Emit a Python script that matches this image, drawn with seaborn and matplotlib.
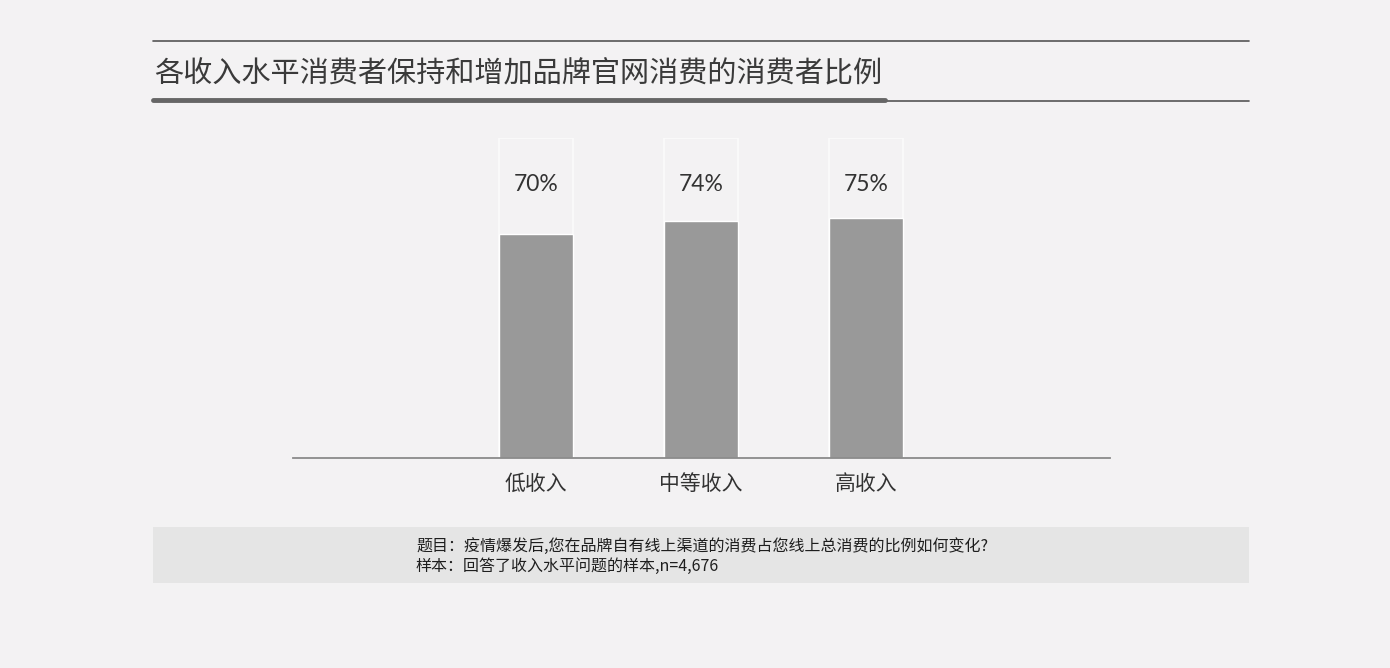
import matplotlib
matplotlib.use("Agg")
import matplotlib.pyplot as plt
import seaborn as sns
import pandas as pd
from matplotlib.lines import Line2D
from matplotlib.patches import Rectangle

# 数据
categories = ["低收入", "中等收入", "高收入"]
values = [70, 74, 75]
labels = ["70%", "74%", "75%"]
full = [100, 100, 100]

title = "各收入水平消费者保持和增加品牌官网消费的消费者比例"
note1 = "题目：疫情爆发后,您在品牌自有线上渠道的消费占您线上总消费的比例如何变化?"
note2 = "样本：回答了收入水平问题的样本,n=4,676"

df = pd.DataFrame({"类别": categories, "比例": values, "满": full})

sns.set_theme(style="white")
plt.rcParams["font.family"] = ["Noto Sans CJK SC", "DejaVu Sans"]

bg = "#f3f2f3"
fig = plt.figure(figsize=(13.9, 6.68), dpi=100)
fig.patch.set_facecolor(bg)

ax = fig.add_axes([293 / 1390, 1 - 458 / 668, 817 / 1390, 320 / 668])
ax.set_facecolor(bg)

# 背景框 (100%)
sns.barplot(data=df, x="类别", y="满", ax=ax, color=bg, width=0.45,
            edgecolor="#fbfbfb", linewidth=1.2, saturation=1)
# 数值条
sns.barplot(data=df, x="类别", y="比例", ax=ax, color="#999999", width=0.45,
            saturation=1)

for i, lab in enumerate(labels):
    ax.text(i, 85.5, lab, ha="center", va="center", fontsize=16.5,
            color="#333333", family=["Lato", "DejaVu Sans"])

ax.set_xlim(-1.473, 3.479)
ax.set_ylim(0, 100)
ax.set_xlabel("")
ax.set_ylabel("")
ax.set_yticks([])
ax.tick_params(axis="x", length=0, pad=11, labelsize=15, labelcolor="#333333")
for s in ["top", "right", "left"]:
    ax.spines[s].set_visible(False)
ax.spines["bottom"].set_color("#8a8a8a")
ax.spines["bottom"].set_linewidth(1.3)

# 标题及线条
fig.add_artist(Line2D([153 / 1390, 1249 / 1390], [1 - 41 / 668] * 2,
                      color="#555555", lw=1.2))
fig.add_artist(Line2D([153 / 1390, 1249 / 1390], [1 - 101 / 668] * 2,
                      color="#555555", lw=1.2))
fig.add_artist(Line2D([153 / 1390, 885 / 1390], [1 - 100 / 668] * 2,
                      color="#666666", lw=3.5))
fig.text(154 / 1390, 1 - 73 / 668, title, fontsize=21, color="#3a3a3a",
         va="center", ha="left", fontweight="medium")

# 注释框
fig.add_artist(Rectangle((153 / 1390, 1 - 583 / 668), 1096 / 1390, 56 / 668,
                         transform=fig.transFigure, facecolor="#e5e5e5",
                         edgecolor="none"))
fig.text(416 / 1390, 1 - 546 / 668, note1, fontsize=11.5, color="#1e1e1e",
         va="center", ha="left", fontweight="medium")
fig.text(416 / 1390, 1 - 566 / 668, note2, fontsize=11.5, color="#1e1e1e",
         va="center", ha="left", fontweight="medium")

fig.savefig("out.png", dpi=100, facecolor=bg)
